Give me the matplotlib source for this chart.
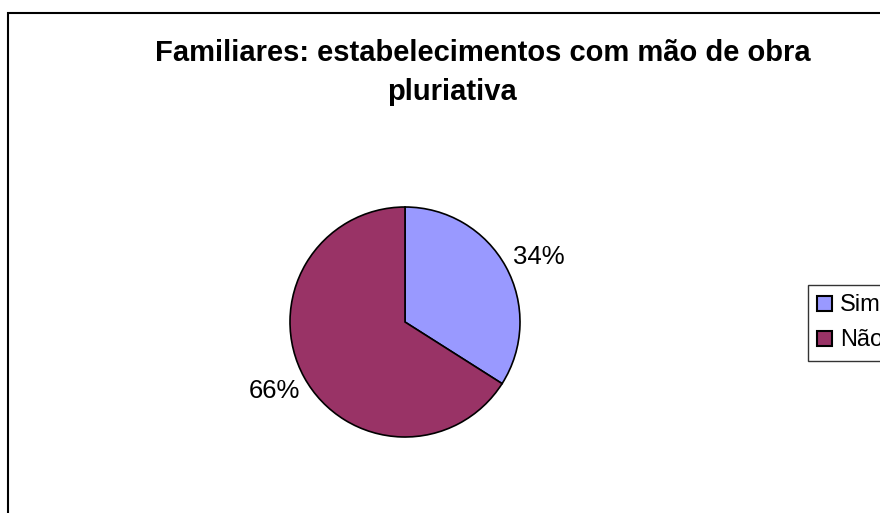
import matplotlib.pyplot as plt
from matplotlib.patches import Rectangle

labels = ["Sim", "Não"]
values = [34, 66]
colors = ["#9999FF", "#993366"]
title_lines = ["Familiares: estabelecimentos com mão de obra", "pluriativa"]

plt.rcParams['font.family'] = ['Liberation Sans', 'DejaVu Sans']

fig = plt.figure(figsize=(8.8, 5.13), dpi=100)

# chart area frame (right and bottom edges fall outside the picture)
frame = Rectangle((8 / 880, -0.1), 1.0, 1 - 13 / 513 + 0.1, transform=fig.transFigure,
                  fill=False, edgecolor="black", linewidth=1.5, clip_on=False)
fig.patches.append(frame)

# pie axes: 3 data units across = 345 px, centre at (405, 322)
w = 345 / 880
h = 345 / 513
cx = 405 / 880
cy = 1 - 322 / 513
ax = fig.add_axes([cx - w / 2, cy - h / 2, w, h])
wedges, texts, autotexts = ax.pie(values, colors=colors, startangle=90, counterclock=False,
                                  autopct="%1.0f%%", pctdistance=1.32,
                                  wedgeprops=dict(edgecolor="black", linewidth=1.2),
                                  textprops=dict(fontsize=18.5))
# nudge labels to where the original puts them
x0, y0 = autotexts[0].get_position()
autotexts[0].set_position((x0 + 0.01, y0 - 0.07))
x1, y1 = autotexts[1].get_position()
autotexts[1].set_position((x1 + 0.02, y1 + 0.035))
ax.set_xlim(-1.5, 1.5)
ax.set_ylim(-1.5, 1.5)
ax.set_aspect("equal")
ax.axis("off")

fig.text(483 / 880, 1 - 61 / 513, title_lines[0], ha="center", va="baseline",
         fontsize=21, fontweight="bold")
fig.text(452 / 880, 1 - 100 / 513, title_lines[1], ha="center", va="baseline",
         fontsize=21, fontweight="bold")

leg = fig.legend(wedges, labels, loc="upper left", bbox_to_anchor=(808 / 880, 1 - 285 / 513),
                 fontsize=17, frameon=True, fancybox=False, edgecolor="black",
                 handlelength=0.6, handleheight=0.6, handletextpad=0.35,
                 borderpad=0.4, labelspacing=0.55, borderaxespad=0)
leg.get_frame().set_linewidth(1.0)
for hnd in leg.legend_handles:
    hnd.set_linewidth(1.5)

fig.savefig("out.png", dpi=100)
